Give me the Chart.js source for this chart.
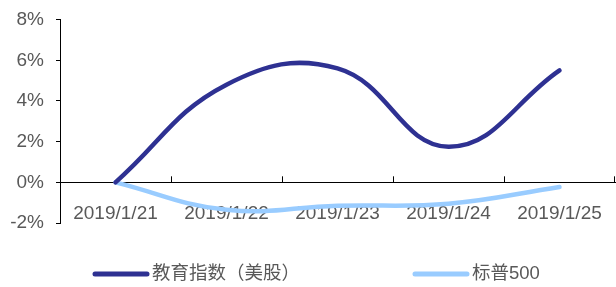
<!DOCTYPE html>
<html>
<head>
<meta charset="utf-8">
<script src="https://cdn.jsdelivr.net/npm/chart.js@4"></script>
<style>
  html, body { margin: 0; padding: 0; background: #fff; }
  #wrap { width: 616px; height: 287px; }
</style>
</head>
<body>
<div id="wrap"><canvas id="myChart" width="616" height="287"></canvas></div>
<script>
const dates = ["2019/1/21", "2019/1/22", "2019/1/23", "2019/1/24", "2019/1/25"];
const eduIndex = [0, 4.8, 5.6, 1.75, 5.5];
const sp500 = [0, -1.35, -1.15, -1.05, -0.23];
const seriesNames = ["教育指数（美股）", "标普500"];
const seriesColors = ["#2E3192", "#99CCFF"];
const yMin = -2, yMax = 8, yStep = 2;

const fontFamily = "'Liberation Sans', Arial, 'Noto Sans CJK SC', sans-serif";

// small upward tick marks on the x axis, between categories
const xTickMarks = {
  id: "xTickMarks",
  afterDraw(chart) {
    const xs = chart.scales.x;
    const y0 = chart.scales.y.getPixelForValue(0);
    const ctx = chart.ctx;
    ctx.save();
    ctx.strokeStyle = "#000";
    ctx.lineWidth = 1;
    ctx.beginPath();
    for (let i = 1; i < dates.length; i++) {
      const px = Math.round((xs.getPixelForValue(i - 1) + xs.getPixelForValue(i)) / 2) + 0.5;
      ctx.moveTo(px, y0);
      ctx.lineTo(px, y0 - 6);
    }
    const last = Math.round(chart.chartArea.right) - 0.5;
    ctx.moveTo(last, y0);
    ctx.lineTo(last, y0 - 6);
    ctx.stroke();
    ctx.restore();
  }
};

// legend drawn at the bottom like the original
const bottomLegend = {
  id: "bottomLegend",
  afterDraw(chart) {
    const ctx = chart.ctx;
    const starts = [95, 415];
    ctx.save();
    ctx.font = "18.5px " + fontFamily;
    ctx.textBaseline = "middle";
    chart.data.datasets.forEach(function (ds, i) {
      const x = starts[i];
      const y = 274;
      ctx.strokeStyle = ds.borderColor;
      ctx.lineWidth = 5;
      ctx.lineCap = "round";
      ctx.beginPath();
      ctx.moveTo(x, y);
      ctx.lineTo(x + 52, y);
      ctx.stroke();
      ctx.fillStyle = "#595959";
      ctx.fillText(ds.label, x + 57, y);
    });
    ctx.restore();
  }
};

new Chart("myChart", {
  type: "line",
  data: {
    labels: dates,
    datasets: [{
      label: seriesNames[0],
      data: eduIndex,
      borderColor: seriesColors[0],
      backgroundColor: seriesColors[0],
      borderWidth: 4.5,
      borderCapStyle: "round",
      pointRadius: 0,
      tension: 0.42
    }, {
      label: seriesNames[1],
      data: sp500,
      borderColor: seriesColors[1],
      backgroundColor: seriesColors[1],
      borderWidth: 4.5,
      borderCapStyle: "round",
      pointRadius: 0,
      tension: 0.42
    }]
  },
  options: {
    responsive: false,
    animation: false,
    layout: {padding: {top: 17, right: 1, bottom: 64, left: 0}},
    plugins: {
      legend: {display: false},
      tooltip: {enabled: false}
    },
    scales: {
      x: {
        type: "category",
        offset: true,
        position: {y: 0},
        z: 1,
        grid: {display: false},
        border: {display: true, color: "#000", width: 1},
        ticks: {
          color: "#595959",
          font: {family: fontFamily, size: 19},
          padding: 12,
          maxRotation: 0,
          autoSkip: false
        }
      },
      y: {
        min: yMin,
        max: yMax,
        ticks: {
          stepSize: yStep,
          color: "#595959",
          font: {family: fontFamily, size: 19, lineHeight: 0.8},
          padding: 12,
          callback: function (v) { return v + "%"; }
        },
        grid: {drawOnChartArea: false, drawTicks: true, tickLength: 4, color: "#000"},
        border: {display: true, color: "#000", width: 1},
        afterFit: function (scale) { scale.width = 60; }
      }
    }
  },
  plugins: [xTickMarks, bottomLegend]
});
</script>
</body>
</html>
